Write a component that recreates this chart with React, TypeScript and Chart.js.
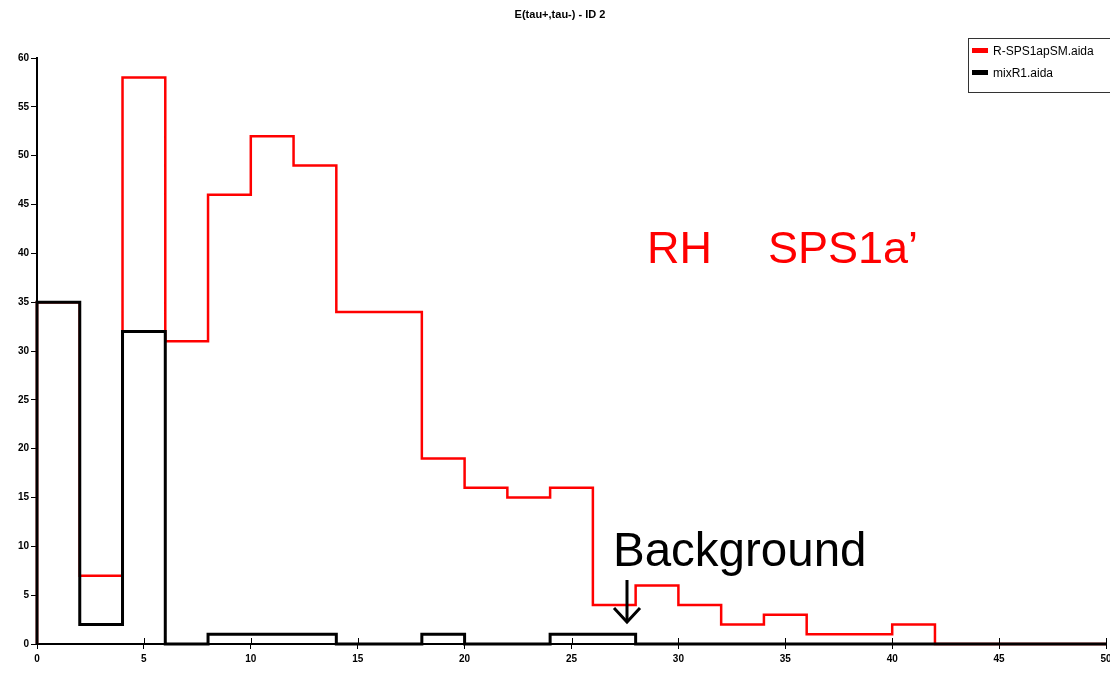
import React, { useEffect, useRef } from "react";
import { Chart, registerables } from "chart.js";

Chart.register(...registerables);

const binEdges = [0, 2, 4, 6, 8, 10, 12, 14, 16, 18, 20, 22, 24, 26, 28, 30, 32, 34, 36, 38, 40, 42, 44, 46, 48, 50];
const signalCounts = [35, 7, 58, 31, 46, 52, 49, 34, 34, 19, 16, 15, 16, 4, 6, 4, 2, 3, 1, 1, 2, 0, 0, 0, 0];
const backgroundCounts = [35, 2, 32, 0, 1, 1, 1, 0, 0, 1, 0, 0, 1, 1, 0, 0, 0, 0, 0, 0, 0, 0, 0, 0, 0];
const xTicks = [0, 5, 10, 15, 20, 25, 30, 35, 40, 45, 50];
const yTicks = [0, 5, 10, 15, 20, 25, 30, 35, 40, 45, 50, 55, 60];
const seriesNames = ["R-SPS1apSM.aida", "mixR1.aida"];
const titleText = "E(tau+,tau-) - ID 2";

function histPoints(counts: number[]) {
  const pts: { x: number; y: number }[] = [{ x: binEdges[0], y: 0 }];
  for (let i = 0; i < counts.length; i++) pts.push({ x: binEdges[i], y: counts[i] });
  pts.push({ x: binEdges[binEdges.length - 1], y: counts[counts.length - 1] });
  return pts;
}

const FONT = "'Liberation Sans', Arial, sans-serif";

const overlayPlugin = {
  id: "overlay",
  afterDraw(chart: any) {
    const ctx = chart.ctx as CanvasRenderingContext2D;
    const xs = chart.scales.x;
    const ys = chart.scales.y;
    ctx.save();
    ctx.strokeStyle = "#000";
    ctx.lineWidth = 1;
    const y0 = ys.getPixelForValue(0);
    xTicks.forEach((v) => {
      const px = Math.round(xs.getPixelForValue(v)) + 0.5;
      ctx.beginPath();
      ctx.moveTo(px, y0);
      ctx.lineTo(px, y0 - 6);
      ctx.stroke();
    });
    ctx.fillStyle = "#000";
    ctx.font = `bold 11px ${FONT}`;
    ctx.textAlign = "center";
    ctx.textBaseline = "middle";
    ctx.fillText(titleText, 560, 15);
    ctx.strokeStyle = "#333";
    ctx.lineWidth = 1;
    ctx.strokeRect(968.5, 38.5, 160, 54);
    ctx.fillStyle = "#ff0000";
    ctx.fillRect(972, 48, 16, 5);
    ctx.fillStyle = "#000";
    ctx.fillRect(972, 70, 16, 5);
    ctx.font = `12px ${FONT}`;
    ctx.textAlign = "left";
    ctx.fillText(seriesNames[0], 993, 52);
    ctx.fillText(seriesNames[1], 993, 74);
    ctx.font = `45px ${FONT}`;
    ctx.textBaseline = "alphabetic";
    ctx.fillStyle = "#ff0000";
    ctx.fillText("RH", 647, 263);
    ctx.fillText("SPS1a\u2019", 768, 263);
    ctx.fillStyle = "#000";
    ctx.font = `47.5px ${FONT}`;
    ctx.fillText("Background", 613, 566);
    ctx.strokeStyle = "#000";
    ctx.lineWidth = 3;
    ctx.beginPath();
    ctx.moveTo(627, 580);
    ctx.lineTo(627, 621);
    ctx.stroke();
    ctx.beginPath();
    ctx.moveTo(614, 608);
    ctx.lineTo(627, 622);
    ctx.lineTo(640, 608);
    ctx.stroke();
    ctx.restore();
  },
};

export default function App() {
  const ref = useRef<HTMLCanvasElement | null>(null);
  useEffect(() => {
    if (!ref.current) return;
    const chart = new Chart(ref.current, {
      type: "line",
      data: {
        datasets: [
          {
            label: seriesNames[0],
            data: histPoints(signalCounts),
            borderColor: "#ff0000",
            borderWidth: 2.5,
            stepped: "before",
            pointRadius: 0,
            fill: false,
            order: 1,
            clip: 6,
          } as any,
          {
            label: seriesNames[1],
            data: histPoints(backgroundCounts),
            borderColor: "#000000",
            borderWidth: 3,
            stepped: "before",
            pointRadius: 0,
            fill: false,
            order: 0,
            clip: 6,
          } as any,
        ],
      },
      options: {
        animation: false,
        responsive: false,
        maintainAspectRatio: false,
        layout: { padding: { top: 58, right: 4, left: 0, bottom: 0 } },
        plugins: { legend: { display: false }, title: { display: false }, tooltip: { enabled: false } },
        scales: {
          x: {
            type: "linear",
            min: 0,
            max: 50,
            afterBuildTicks: (s: any) => {
              s.ticks = xTicks.map((v) => ({ value: v }));
            },
            afterFit: (s: any) => {
              s.height = 35;
              s.paddingLeft = 0;
              s.paddingRight = 0;
            },
            ticks: { color: "#000", font: { family: FONT, size: 10, weight: "bold" }, padding: 4, maxRotation: 0, autoSkip: false },
            grid: { drawOnChartArea: false, drawTicks: true, tickLength: 5, color: "#000" },
            border: { display: true, color: "#000", width: 2 },
          },
          y: {
            type: "linear",
            min: 0,
            max: 60,
            afterBuildTicks: (s: any) => {
              s.ticks = yTicks.map((v) => ({ value: v }));
            },
            afterFit: (s: any) => {
              s.width = 37;
              s.paddingTop = 0;
              s.paddingBottom = 0;
            },
            ticks: { color: "#000", font: { family: FONT, size: 10, weight: "bold" }, padding: 2, autoSkip: false },
            grid: { drawOnChartArea: false, drawTicks: true, tickLength: 6, color: "#000" },
            border: { display: true, color: "#000", width: 2 },
          },
        },
      },
      plugins: [overlayPlugin],
    } as any);
    return () => chart.destroy();
  }, []);
  return (
    <div style={{ position: "fixed", left: 0, top: 0, width: 1110, height: 679, background: "#fff" }}>
      <canvas ref={ref} width={1110} height={679} style={{ width: 1110, height: 679, display: "block" }} />
    </div>
  );
}
